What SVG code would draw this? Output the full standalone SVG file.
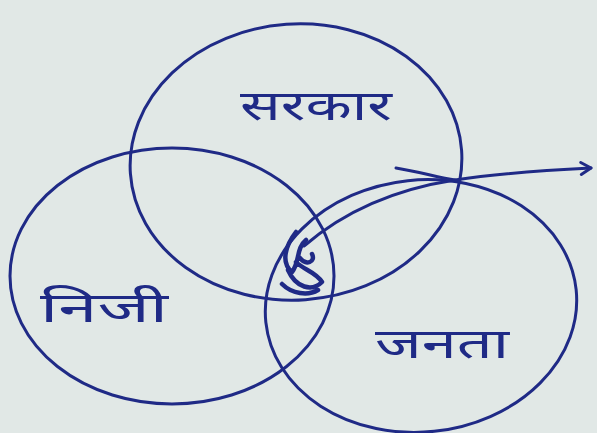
<svg xmlns="http://www.w3.org/2000/svg" width="597" height="433" viewBox="0 0 597 433">
<defs>
<style>
.ink{fill:none;stroke:#1f2a86;stroke-width:3;stroke-linecap:round;stroke-linejoin:round}
.thick{stroke-width:4.5}
.lbl{font-family:"Noto Sans","Noto Sans CJK SC",sans-serif;fill:#1f2a86;font-size:42px;font-weight:normal}
</style>
<marker id="arr" markerWidth="16" markerHeight="16" refX="13" refY="8" orient="auto" markerUnits="userSpaceOnUse">
<path d="M3,2 L13,8 L3,14" class="ink"/>
</marker>
</defs>
<rect width="597" height="433" fill="#e1e8e6"/>
<g id="sarkar">
<ellipse class="ink" cx="296" cy="162" rx="166" ry="138" transform="rotate(-4 296 162)"/>
<text class="lbl" x="240" y="120" textLength="152" lengthAdjust="spacingAndGlyphs">सरकार</text>
</g>
<g id="niji">
<ellipse class="ink" cx="172" cy="276" rx="162" ry="128"/>
<text class="lbl" x="40" y="322" textLength="128" lengthAdjust="spacingAndGlyphs">निजी</text>
</g>
<g id="janta">
<ellipse class="ink" cx="421" cy="306" rx="156" ry="126" transform="rotate(-6 421 306)"/>
<text class="lbl" x="375" y="358" textLength="134" lengthAdjust="spacingAndGlyphs">जनता</text>
</g>
<g id="hatch">
<path class="ink thick" d="M296,232 C286,245 280,262 292,272 C300,262 296,248 306,240 M288,270 C296,288 312,292 322,282 C316,272 304,270 296,262 M300,258 C306,266 316,262 312,254 M282,284 C292,294 308,296 318,290"/>
</g>
<g id="connectors">
<path class="ink" d="M304,246 C340,215 390,190 455,180 C500,173 550,170 591,168" marker-end="url(#arr)"/>
<path class="ink" d="M396,168 C420,172 440,178 455,180"/>
</g>
</svg>
